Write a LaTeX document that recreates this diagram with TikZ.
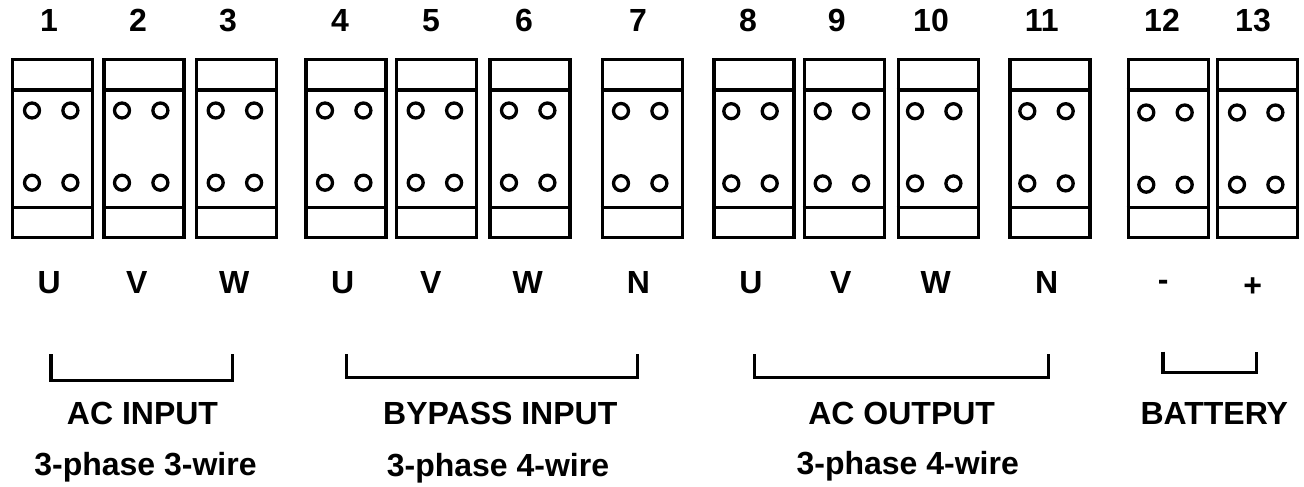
\documentclass[tikz,border=0pt]{standalone}
\usepackage{fontspec}
\setmainfont{Liberation Sans}
\usepackage{tikz}

\tikzset{
	block/.style={shape=rectangle,draw=black,line width=3.3pt,anchor=north west,minimum width=80pt,minimum height=178pt,inner sep=0pt},
	hole/.style={shape=circle,draw=black,line width=3.3pt,minimum size=15pt,inner sep=0pt},
	label/.style={anchor=base,inner sep=0pt,font=\fontsize{32}{32}\selectfont\bfseries},
	bracket/.style={line width=3.3pt}
}

% block name, left edge, first hole, shift of the holes
\newcommand{\terminal}[4]{
	\node[block] (#1) at (#2, 58) {};
	\draw[line width=3.3pt] ([yshift=-32pt]#1.north west) -- ([yshift=-32pt]#1.north east);
	\draw[line width=3pt] ([yshift=32pt]#1.south west) -- ([xshift=-3pt,yshift=32pt]#1.south east);
	\node[hole] (#1a) at (#3, 110.5+#4) {};
	\node[hole] (#1b) at (#3+38.4, 110.5+#4) {};
	\node[hole] (#1c) at (#3, 182.7+#4) {};
	\node[hole] (#1d) at (#3+38.4, 182.7+#4) {};
}

\begin{document}
\begin{tikzpicture}[x=1pt,y=-1pt]

	\useasboundingbox (0, 0) rectangle (1304, 487);

	\terminal{t1}{11}{32}{0}
	\terminal{t2}{102.3}{122}{0}
	\terminal{t3}{195}{215.7}{0}
	\terminal{t4}{304.4}{325}{0}
	\terminal{t5}{395}{415.7}{0}
	\terminal{t6}{488.4}{509}{0}
	\terminal{t7}{600.7}{621}{0.5}
	\terminal{t8}{712.4}{731.3}{0.7}
	\terminal{t9}{802.7}{822.7}{0.7}
	\terminal{t10}{896.7}{915}{0.7}
	\terminal{t11}{1008.4}{1027.3}{0.7}
	\terminal{t12}{1126.6}{1146.3}{2}
	\terminal{t13}{1216}{1237}{2}

	\node[label] (n1) at (49, 32) {1};
	\node[label] (n2) at (138, 32) {2};
	\node[label] (n3) at (228, 32) {3};
	\node[label] (n4) at (340, 32) {4};
	\node[label] (n5) at (431, 32) {5};
	\node[label] (n6) at (524, 32) {6};
	\node[label] (n7) at (638, 32) {7};
	\node[label] (n8) at (748, 32) {8};
	\node[label] (n9) at (836.7, 32) {9};
	\node[label] (n10) at (931, 32) {10};
	\node[label] (n11) at (1041.7, 32) {11};
	\node[label] (n12) at (1162, 32) {12};
	\node[label] (n13) at (1253, 32) {13};

	\node[label] (u1) at (49.3, 293) {U};
	\node[label] (v1) at (136.7, 293) {V};
	\node[label] (w1) at (234.3, 293) {W};
	\node[label] (u2) at (342.7, 293) {U};
	\node[label] (v2) at (430.7, 293) {V};
	\node[label] (w2) at (527.7, 293) {W};
	\node[label] (n2a) at (638.3, 293) {N};
	\node[label] (u3) at (751, 293) {U};
	\node[label] (v3) at (840.7, 293) {V};
	\node[label] (w3) at (935.7, 293) {W};
	\node[label] (n3a) at (1046.7, 293) {N};
	\node[label] (minus) at (1163.3, 290) {-};
	\node[label] (plus) at (1252.7, 296) {+};

	\coordinate (acinl) at (51, 354.3);
	\coordinate (acinb) at (142, 380.7);
	\coordinate (acinr) at (232.3, 354.3);
	\coordinate (bypassl) at (346.7, 354.3);
	\coordinate (bypassb) at (493, 377.5);
	\coordinate (bypassr) at (637.7, 354.3);
	\coordinate (acoutl) at (754.7, 354.3);
	\coordinate (acoutb) at (902, 377.7);
	\coordinate (acoutr) at (1048.3, 354.3);
	\coordinate (batl) at (1163, 351.7);
	\coordinate (batb) at (1210, 372.7);
	\coordinate (batr) at (1256.3, 351.7);

	\draw[bracket] (acinl) |- (acinb) -| (acinr);
	\draw[bracket] (bypassl) |- (bypassb) -| (bypassr);
	\draw[bracket] (acoutl) |- (acoutb) -| (acoutr);
	\draw[bracket] (batl) |- (batb) -| (batr);

	\node[label] (acin) at (142.5, 424) {AC INPUT};
	\node[label] (bypass) at (500.3, 424) {BYPASS INPUT};
	\node[label] (acout) at (901.7, 424) {AC OUTPUT};
	\node[label] (bat) at (1214.3, 424) {BATTERY};

	\node[label] (acinw) at (145.5, 475) {3-phase 3-wire};
	\node[label] (bypassw) at (498, 476.7) {3-phase 4-wire};
	\node[label] (acoutw) at (907.7, 474.3) {3-phase 4-wire};

\end{tikzpicture}
\end{document}
